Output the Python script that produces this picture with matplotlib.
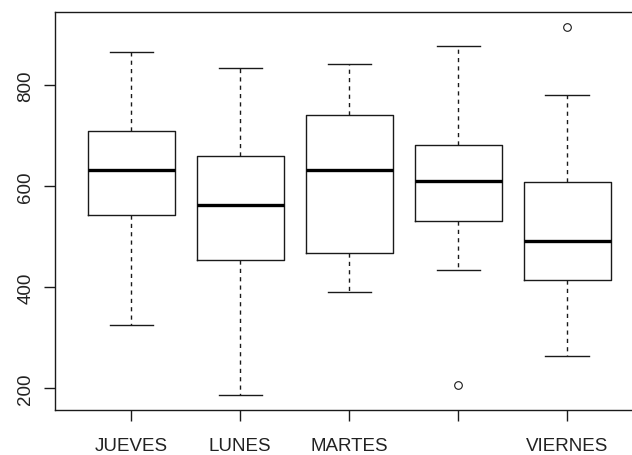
import matplotlib
matplotlib.use("Agg")
import matplotlib.pyplot as plt

plt.rcParams['font.family'] = ['Liberation Sans', 'DejaVu Sans']

# Five-number summaries per weekday
dias = ["JUEVES", "LUNES", "MARTES", "MIERCOLES", "VIERNES"]
etiquetas = ["JUEVES", "LUNES", "MARTES", "", "VIERNES"]
bigote_inf = [325, 186, 391, 434, 263]
q1 = [543, 453, 467, 531, 414]
mediana = [632, 562, 632, 611, 492]
q3 = [710, 661, 742, 682, 608]
bigote_sup = [866, 834, 842, 879, 781]
atipicos = [[], [], [], [205], [916]]

stats = []
for i, d in enumerate(dias):
    stats.append({'label': etiquetas[i], 'whislo': bigote_inf[i], 'q1': q1[i],
                  'med': mediana[i], 'q3': q3[i], 'whishi': bigote_sup[i],
                  'fliers': atipicos[i]})

fig = plt.figure(figsize=(6.32, 4.56), dpi=100)
ax = fig.add_axes([55 / 632, 45.3 / 456, 588.6 / 632, 397.4 / 456])

col = "#1a1a1a"
ax.bxp(stats, positions=range(1, 6), widths=0.8, showfliers=True,
       boxprops=dict(color=col, linewidth=1.0),
       medianprops=dict(color="black", linewidth=2.4, solid_capstyle="butt"),
       whiskerprops=dict(color=col, linewidth=1.0, linestyle=(0, (3, 3))),
       capprops=dict(color=col, linewidth=1.0),
       capwidths=0.4,
       flierprops=dict(marker="o", markerfacecolor="none", markeredgecolor=col,
                       markersize=5.5, markeredgewidth=0.8))

# R-style 4% range expansion
todos = bigote_inf + bigote_sup + [v for a in atipicos for v in a]
lo, hi = min(todos), max(todos)
pad = 0.04 * (hi - lo)
ax.set_ylim(lo - pad, hi + pad)
ax.set_xlim(0.3, 5.7)

ax.set_yticks([200, 400, 600, 800])
ax.set_yticklabels(["200", "400", "600", "800"], rotation=90, va="center")
ax.set_xticks(range(1, 6))
ax.set_xticklabels(etiquetas)

ax.tick_params(axis="both", length=8, width=1.0, color=col, labelsize=13.5,
               labelcolor="#222222")
ax.tick_params(axis="x", pad=12)
ax.tick_params(axis="y", pad=7)
for s in ax.spines.values():
    s.set_color(col)
    s.set_linewidth(1.0)

fig.savefig("out.png", dpi=100)
